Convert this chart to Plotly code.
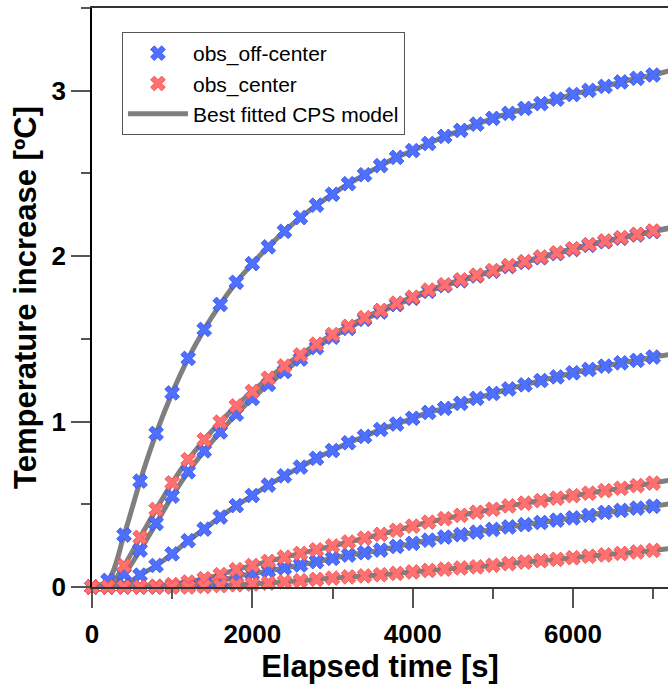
import plotly.graph_objects as go

# Elapsed time [s]
time_s = [0, 200, 400, 600, 800, 1000, 1200, 1400, 1600, 1800, 2000, 2200, 2400,
          2600, 2800, 3000, 3200, 3400, 3600, 3800, 4000, 4200, 4400, 4600, 4800,
          5000, 5200, 5400, 5600, 5800, 6000, 6200, 6400, 6600, 6800, 7000, 7200]

# off-center observations (blue)
off_a = [0, 0.04, 0.314, 0.64, 0.928, 1.173, 1.382, 1.557, 1.708, 1.842, 1.955, 2.056, 2.15,
         2.233, 2.308, 2.374, 2.438, 2.492, 2.547, 2.597, 2.638, 2.681, 2.724, 2.76, 2.798,
         2.833, 2.863, 2.893, 2.922, 2.949, 2.977, 3.002, 3.026, 3.053, 3.075, 3.095, 3.12]
off_c = [0, 0, 0.078, 0.223, 0.384, 0.549, 0.696, 0.823, 0.937, 1.045, 1.14, 1.225, 1.303,
         1.378, 1.447, 1.51, 1.563, 1.618, 1.662, 1.707, 1.745, 1.787, 1.821, 1.851, 1.88,
         1.908, 1.937, 1.962, 1.99, 2.015, 2.04, 2.065, 2.087, 2.108, 2.128, 2.148, 2.168]
off_d = [0, 0, 0.01, 0.072, 0.13, 0.2, 0.28, 0.35, 0.423, 0.492, 0.553, 0.616, 0.672,
         0.725, 0.778, 0.825, 0.872, 0.91, 0.952, 0.985, 1.02, 1.055, 1.08, 1.11, 1.14,
         1.17, 1.197, 1.222, 1.248, 1.27, 1.295, 1.315, 1.335, 1.355, 1.37, 1.39, 1.405]
off_f = [0, 0, 0, 0, 0, 0.002, 0.01, 0.022, 0.036, 0.065, 0.08, 0.097, 0.115,
         0.133, 0.153, 0.173, 0.193, 0.207, 0.223, 0.245, 0.264, 0.283, 0.302, 0.316, 0.332,
         0.348, 0.363, 0.377, 0.39, 0.404, 0.418, 0.433, 0.451, 0.463, 0.477, 0.488, 0.503]

# center observations (red)
cen_b = [0, 0, 0.129, 0.3, 0.469, 0.63, 0.77, 0.89, 0.997, 1.095, 1.182, 1.262, 1.336,
         1.403, 1.468, 1.526, 1.576, 1.628, 1.672, 1.716, 1.752, 1.795, 1.827, 1.857, 1.885,
         1.913, 1.943, 1.967, 1.995, 2.02, 2.045, 2.07, 2.092, 2.112, 2.132, 2.152, 2.172]
cen_e = [0, 0, 0, 0, 0.005, 0.015, 0.03, 0.05, 0.075, 0.105, 0.13, 0.155, 0.18,
         0.203, 0.225, 0.248, 0.272, 0.295, 0.318, 0.343, 0.368, 0.392, 0.413, 0.433, 0.452,
         0.47, 0.49, 0.507, 0.522, 0.537, 0.552, 0.567, 0.583, 0.597, 0.613, 0.628, 0.645]
cen_g = [0, 0, 0, 0, 0, 0, 0, 0.003, 0.008, 0.013, 0.018, 0.024, 0.031,
         0.038, 0.046, 0.054, 0.061, 0.067, 0.074, 0.082, 0.091, 0.1, 0.108, 0.115, 0.122,
         0.131, 0.141, 0.151, 0.159, 0.167, 0.177, 0.186, 0.194, 0.203, 0.212, 0.221, 0.232]

off_series = [off_a, off_c, off_d, off_f]
cen_series = [cen_b, cen_e, cen_g]

BLUE_FILL = "#4f70ff"
BLUE_EDGE = "#2a4df0"
RED_FILL = "#ff7070"
RED_EDGE = "#f04848"
GRAY = "#7f7f7f"

fig = go.Figure()

# fitted model curves (drawn under the markers)
for i, ys in enumerate(off_series + cen_series):
    fig.add_trace(go.Scatter(
        x=time_s, y=ys, mode="lines", line=dict(color=GRAY, width=5, shape="spline"),
        name="Best fitted CPS model", legendgroup="model", showlegend=(i == 0),
        legendrank=3))

for i, ys in enumerate(off_series):
    fig.add_trace(go.Scatter(
        x=time_s, y=ys, mode="markers", cliponaxis=False,
        marker=dict(symbol="x", size=13, color=BLUE_FILL, line=dict(color=BLUE_EDGE, width=0.8)),
        name="obs_off-center", legendgroup="off", showlegend=(i == 0), legendrank=1))

for i, ys in enumerate(cen_series):
    fig.add_trace(go.Scatter(
        x=time_s, y=ys, mode="markers", cliponaxis=False,
        marker=dict(symbol="x", size=13, color=RED_FILL, line=dict(color=RED_EDGE, width=0.8)),
        name="obs_center", legendgroup="cen", showlegend=(i == 0), legendrank=2))

axis_font = dict(family="Arial", size=26, color="black", weight="bold")
title_font = dict(family="Arial", size=31, color="black", weight="bold")

fig.update_layout(
    width=668, height=687,
    margin=dict(l=92, r=0, t=8, b=100),
    paper_bgcolor="white", plot_bgcolor="white",
    showlegend=True,
    legend=dict(x=0.052, y=0.9585, xanchor="left", yanchor="top",
                bgcolor="white", bordercolor="#555555", borderwidth=1,
                font=dict(family="Arial", size=21, color="black"),
                itemwidth=60, tracegroupgap=0),
    xaxis=dict(range=[0, 7185], tickvals=[0, 2000, 4000, 6000], ticks="outside",
               ticklen=19, tickwidth=1.5, tickcolor="#555555", ticklabelstandoff=4,
               minor=dict(dtick=1000, ticks="outside", ticklen=10, tickwidth=1.5, tickcolor="#555555"),
               showline=True, linecolor="#333333", linewidth=1.5, mirror=True,
               showgrid=False, zeroline=False, tickfont=axis_font,
               title=dict(text="Elapsed time [s]", font=title_font, standoff=4)),
    yaxis=dict(range=[0, 3.5], tickvals=[0, 1, 2, 3], ticks="outside",
               ticklen=19, tickwidth=1.5, tickcolor="#555555",
               minor=dict(dtick=0.5, ticks="outside", ticklen=9.5, tickwidth=1.5, tickcolor="#555555"),
               showline=True, linecolor="black", linewidth=1.5,
               showgrid=False, zeroline=False, tickfont=axis_font,
               title=dict(text="Temperature increase [ºC]", font=title_font, standoff=6)),
)

fig.write_html("out.html")
